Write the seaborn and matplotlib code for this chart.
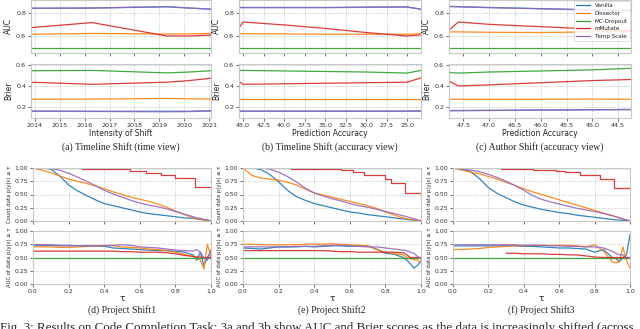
import numpy as np
import pandas as pd
import matplotlib
matplotlib.use("Agg")
from matplotlib import pyplot as plt
import seaborn as sns

# ---- data ----
methods = ["Vanilla", "Dissector", "MC-Dropout", "mMutate", "Temp Scale"]
colors = ["#1f77b4", "#ff7f0e", "#2ca02c", "#d62728", "#9467bd"]
nan = float("nan")

# (a) timeline shift, time view
a_year = [2013.85, 2016.3, 2019.3, 2020.2, 2021.07]
a_auc_vanilla = [0.838, 0.840, 0.850, 0.840, 0.830]
a_auc_dissector = [0.615, 0.622, 0.617, 0.618, 0.622]
a_auc_mcd = [0.5, 0.5, 0.5, 0.5, 0.5]
a_auc_mmutate = [0.672, 0.715, 0.600, 0.600, 0.608]
a_auc_temp = [0.838, 0.840, 0.853, 0.840, 0.830]
a_brier_vanilla = [0.165, 0.163, 0.163, 0.163, 0.168]
a_brier_dissector = [0.275, 0.277, 0.283, 0.280, 0.278]
a_brier_mcd = [0.542, 0.545, 0.522, 0.530, 0.542]
a_brier_mmutate = [0.435, 0.415, 0.435, 0.450, 0.472]
a_brier_temp = [0.163, 0.161, 0.158, 0.160, 0.165]

# (b) timeline shift, accuracy view
b_acc = [45.5, 45.0, 40.0, 35.0, 30.0, 25.0, 23.3]
b_auc_vanilla = [0.845, 0.845, 0.845, 0.845, 0.848, 0.850, 0.830]
b_auc_dissector = [0.620, 0.620, 0.618, 0.615, 0.615, 0.615, 0.620]
b_auc_mcd = [0.5, 0.5, 0.5, 0.5, 0.5, 0.5, 0.5]
b_auc_mmutate = [0.670, 0.720, 0.695, 0.665, 0.630, 0.600, 0.610]
b_auc_temp = [0.843, 0.843, 0.843, 0.843, 0.846, 0.848, 0.830]
b_brier_vanilla = [0.165, 0.165, 0.165, 0.165, 0.165, 0.165, 0.167]
b_brier_dissector = [0.275, 0.275, 0.275, 0.275, 0.275, 0.275, 0.275]
b_brier_mcd = [0.545, 0.545, 0.540, 0.535, 0.530, 0.520, 0.545]
b_brier_mmutate = [0.440, 0.415, 0.420, 0.425, 0.430, 0.435, 0.475]
b_brier_temp = [0.162, 0.162, 0.162, 0.162, 0.162, 0.162, 0.165]

# (c) author shift, accuracy view
c_acc = [47.78, 47.6, 47.0, 46.0, 45.0, 44.25]
c_auc_vanilla = [0.855, 0.852, 0.845, 0.835, 0.825, 0.820]
c_auc_dissector = [0.635, 0.635, 0.632, 0.630, 0.635, 0.640]
c_auc_mcd = [0.5, 0.5, 0.5, 0.5, 0.5, 0.5]
c_auc_mmutate = [0.650, 0.720, 0.700, 0.680, 0.660, 0.645]
c_auc_temp = [0.853, 0.850, 0.843, 0.833, 0.823, 0.818]
c_brier_vanilla = [0.170, 0.170, 0.172, 0.175, 0.178, 0.180]
c_brier_dissector = [0.275, 0.275, 0.275, 0.275, 0.277, 0.275]
c_brier_mcd = [0.525, 0.520, 0.530, 0.540, 0.550, 0.565]
c_brier_mmutate = [0.445, 0.400, 0.410, 0.430, 0.450, 0.460]
c_brier_temp = [0.168, 0.168, 0.170, 0.173, 0.176, 0.178]

# project shifts: values on a tau grid
tau = [0.0, 0.05, 0.1, 0.15, 0.2, 0.25, 0.3, 0.35, 0.4, 0.45, 0.5, 0.55,
       0.6, 0.65, 0.7, 0.75, 0.8, 0.85, 0.9, 0.92, 0.94, 0.96, 0.98, 1.0]
ones = [1.0] * 24
halves = [0.5] * 24

d_cnt_vanilla = [1.0, 1.0, 0.98, 0.85, 0.68, 0.57, 0.48, 0.40, 0.33, 0.29, 0.25, 0.21,
                 0.17, 0.14, 0.12, 0.10, 0.08, 0.06, 0.05, 0.04, 0.03, 0.02, 0.01, 0.0]
d_cnt_dissector = [1.0, 0.96, 0.91, 0.85, 0.79, 0.75, 0.71, 0.66, 0.61, 0.55, 0.50, 0.45,
                   0.41, 0.37, 0.32, 0.26, 0.19, 0.12, 0.06, 0.04, 0.03, 0.02, 0.01, 0.0]
d_cnt_temp = [1.0, 1.0, 0.99, 0.96, 0.90, 0.83, 0.75, 0.67, 0.58, 0.51, 0.45, 0.39,
              0.34, 0.30, 0.27, 0.23, 0.18, 0.13, 0.08, 0.06, 0.05, 0.03, 0.02, 0.0]
d_step_tau = [0.275, 0.545, 0.635, 0.72, 0.80, 0.91, 1.0]
d_cnt_mmutate = [0.98, 0.95, 0.91, 0.87, 0.81, 0.65, 0.65]
d_auc_vanilla = [0.73, 0.73, 0.73, 0.72, 0.72, 0.72, 0.72, 0.72, 0.71, 0.68, 0.67, 0.66,
                 0.65, 0.64, 0.63, 0.63, 0.62, 0.60, 0.55, 0.45, 0.60, 0.35, 0.50, 0.62]
d_auc_dissector = [0.70, 0.70, 0.70, 0.69, 0.69, 0.70, 0.71, 0.72, 0.73, 0.72, 0.70, 0.69,
                   0.68, 0.66, 0.65, 0.63, 0.60, 0.56, 0.52, 0.50, 0.45, 0.28, 0.75, 0.50]
d_auc_temp = [0.74, 0.74, 0.74, 0.73, 0.73, 0.72, 0.72, 0.72, 0.72, 0.73, 0.74, 0.73,
              0.70, 0.69, 0.68, 0.66, 0.64, 0.63, 0.62, 0.65, 0.60, 0.50, 0.45, 0.65]
d_auc_mmutate = [0.62, 0.62, 0.62, 0.62, 0.62, 0.62, 0.62, 0.62, 0.62, 0.62, 0.61, 0.61,
                 0.60, 0.60, 0.60, 0.59, 0.57, 0.54, 0.52, 0.51, 0.51, 0.50, 0.50, 0.50]

e_cnt_vanilla = [1.0, 1.0, 0.97, 0.88, 0.74, 0.58, 0.46, 0.39, 0.33, 0.29, 0.25, 0.21,
                 0.17, 0.15, 0.12, 0.10, 0.08, 0.06, 0.04, 0.03, 0.02, 0.02, 0.01, 0.0]
e_cnt_dissector = [1.0, 0.86, 0.81, 0.79, 0.77, 0.73, 0.68, 0.60, 0.53, 0.49, 0.45, 0.41,
                   0.37, 0.33, 0.29, 0.24, 0.17, 0.11, 0.06, 0.04, 0.03, 0.02, 0.01, 0.0]
e_cnt_temp = [1.0, 1.0, 1.0, 0.98, 0.92, 0.84, 0.74, 0.62, 0.53, 0.47, 0.42, 0.38,
              0.33, 0.29, 0.26, 0.22, 0.18, 0.14, 0.10, 0.08, 0.06, 0.04, 0.02, 0.0]
e_step_tau = [0.27, 0.5, 0.55, 0.62, 0.68, 0.8, 0.83, 0.91, 1.0]
e_cnt_mmutate = [0.985, 0.975, 0.96, 0.93, 0.87, 0.80, 0.72, 0.53, 0.53]
e_auc_vanilla = [0.68, 0.67, 0.66, 0.68, 0.70, 0.70, 0.70, 0.71, 0.70, 0.71, 0.72, 0.72,
                 0.71, 0.72, 0.72, 0.66, 0.58, 0.56, 0.50, 0.45, 0.38, 0.30, 0.35, 0.44]
e_auc_dissector = [0.75, 0.75, 0.74, 0.74, 0.74, 0.74, 0.74, 0.75, 0.75, 0.75, 0.76, 0.75,
                   0.74, 0.73, 0.72, 0.65, 0.60, 0.57, 0.55, 0.50, 0.48, 0.46, 0.45, 0.40]
e_auc_temp = [0.70, 0.70, 0.70, 0.70, 0.70, 0.70, 0.71, 0.71, 0.71, 0.72, 0.73, 0.73,
              0.72, 0.71, 0.70, 0.70, 0.68, 0.66, 0.64, 0.63, 0.60, 0.58, 0.52, 0.48]
e_auc_mmutate = [0.63, 0.63, 0.63, 0.63, 0.63, 0.63, 0.63, 0.63, 0.63, 0.63, 0.62, 0.61,
                 0.61, 0.60, 0.60, 0.60, 0.60, 0.60, 0.59, 0.55, 0.50, 0.50, 0.50, 0.50]

f_cnt_vanilla = [1.0, 0.98, 0.93, 0.80, 0.63, 0.52, 0.44, 0.36, 0.30, 0.26, 0.22, 0.19,
                 0.16, 0.14, 0.11, 0.09, 0.07, 0.05, 0.03, 0.02, 0.02, 0.01, 0.01, 0.0]
f_cnt_dissector = [1.0, 0.96, 0.92, 0.89, 0.84, 0.79, 0.73, 0.67, 0.61, 0.55, 0.50, 0.45,
                   0.40, 0.35, 0.30, 0.25, 0.20, 0.15, 0.10, 0.08, 0.06, 0.04, 0.02, 0.0]
f_cnt_temp = [1.0, 0.98, 0.96, 0.93, 0.88, 0.82, 0.75, 0.67, 0.58, 0.48, 0.41, 0.36,
              0.32, 0.28, 0.24, 0.21, 0.18, 0.14, 0.10, 0.08, 0.06, 0.04, 0.02, 0.0]
f_step_tau = [0.27, 0.45, 0.58, 0.63, 0.72, 0.83, 0.91, 1.0]
f_cnt_mmutate = [0.985, 0.97, 0.95, 0.93, 0.87, 0.80, 0.62, 0.62]
f_auc_vanilla = [0.72, 0.72, 0.72, 0.72, 0.72, 0.72, 0.72, 0.72, 0.71, 0.71, 0.70, 0.69,
                 0.68, 0.68, 0.67, 0.66, 0.60, 0.65, 0.50, 0.48, 0.42, 0.50, 0.55, 0.93]
f_auc_dissector = [0.65, 0.65, 0.66, 0.67, 0.69, 0.70, 0.71, 0.72, 0.72, 0.73, 0.73, 0.73,
                   0.73, 0.73, 0.72, 0.70, 0.74, 0.62, 0.42, 0.40, 0.42, 0.70, 0.45, 0.30]
f_auc_temp = [0.74, 0.74, 0.74, 0.74, 0.74, 0.74, 0.74, 0.74, 0.73, 0.73, 0.73, 0.72,
              0.72, 0.71, 0.71, 0.70, 0.70, 0.68, 0.62, 0.58, 0.55, 0.55, 0.50, 0.50]
f_auc_mmutate = [nan, nan, nan, nan, nan, nan, 0.58, 0.58, 0.57, 0.57, 0.57, 0.56,
                 0.56, 0.55, 0.55, 0.53, 0.51, 0.50, 0.50, 0.50, 0.50, 0.50, 0.50, 0.50]

# ---- style ----
sns.set_theme(style="whitegrid", rc={
    "grid.linestyle": ":", "grid.color": "#b5b5b5", "grid.linewidth": 0.6,
    "axes.edgecolor": "#c8c8c8", "axes.linewidth": 0.8,
    "xtick.bottom": True, "ytick.left": True,
    "xtick.major.size": 2, "ytick.major.size": 2,
    "xtick.major.width": 0.5, "ytick.major.width": 0.5,
    "xtick.color": "#333333", "ytick.color": "#333333",
    "xtick.major.pad": 1.5, "ytick.major.pad": 1.5,
})
plt.rcParams["font.family"] = ["DejaVu Sans"]

W, H = 640, 329
fig = plt.figure(figsize=(6.4, 3.29), dpi=100)


def box(x0, x1, y0, y1):
    return [x0 / W, 1 - y1 / H, (x1 - x0) / W, (y1 - y0) / H]


def draw(ax, x, ys, lw=0.9, steps=None):
    for i, y in enumerate(ys):
        kw = {}
        if steps == i:
            kw["drawstyle"] = "steps-post"
        sns.lineplot(x=x[i] if isinstance(x, dict) else x, y=y, ax=ax, color=colors[i],
                     lw=lw, estimator=None, sort=False, alpha=0.9, **kw)


def tidy(ax, fs=4.6):
    ax.tick_params(labelsize=fs, length=2)
    for s in ax.spines.values():
        s.set_color("#c8c8c8")


# top row
top_x = [(31, 211), (239, 421), (449, 631)]
tx = [a_year, b_acc, c_acc]
auc_sets = [
    [a_auc_vanilla, a_auc_dissector, a_auc_mcd, a_auc_mmutate, a_auc_temp],
    [b_auc_vanilla, b_auc_dissector, b_auc_mcd, b_auc_mmutate, b_auc_temp],
    [c_auc_vanilla, c_auc_dissector, c_auc_mcd, c_auc_mmutate, c_auc_temp],
]
brier_sets = [
    [a_brier_vanilla, a_brier_dissector, a_brier_mcd, a_brier_mmutate, a_brier_temp],
    [b_brier_vanilla, b_brier_dissector, b_brier_mcd, b_brier_mmutate, b_brier_temp],
    [c_brier_vanilla, c_brier_dissector, c_brier_mcd, c_brier_mmutate, c_brier_temp],
]
xlabels_top = ["Intensity of Shift", "Prediction Accuracy", "Prediction Accuracy"]
captions_top = ["(a) Timeline Shift (time view)", "(b) Timeline Shift (accuracy view)",
                "(c) Author Shift (accuracy view)"]
xticks_top = [list(range(2014, 2022)),
              [45.0, 42.5, 40.0, 37.5, 35.0, 32.5, 30.0, 27.5, 25.0],
              [47.5, 47.0, 46.5, 46.0, 45.5, 45.0, 44.5]]

for k in range(3):
    x0, x1 = top_x[k]
    ax1 = fig.add_axes(box(x0, x1, 0, 53))
    ax2 = fig.add_axes(box(x0, x1, 64, 118))
    draw(ax1, tx[k], auc_sets[k])
    draw(ax2, tx[k], brier_sets[k])
    for ax in (ax1, ax2):
        ax.set_xticks(xticks_top[k])
        if k == 0:
            ax.set_xlim(min(tx[k]), max(tx[k]))
        else:
            ax.set_xlim(max(tx[k]), min(tx[k]))
        tidy(ax)
    ax1.set_ylim(0.454, 0.909)
    ax1.set_yticks([0.6, 0.8])
    ax2.set_ylim(0.1, 0.605)
    ax2.set_yticks([0.2, 0.4, 0.6])
    ax1.set_xticklabels([])
    if k == 0:
        ax2.set_xticklabels([str(v) for v in xticks_top[k]])
    else:
        ax2.set_xticklabels([f"{v:.1f}" for v in xticks_top[k]])
    ax1.set_ylabel("AUC", fontsize=5.5, labelpad=2)
    ax2.set_ylabel("Brier", fontsize=5.5, labelpad=2)
    ax1.set_xlabel("")
    ax2.set_xlabel(xlabels_top[k], fontsize=5.5, labelpad=1)
    fig.text((x0 + x1) / 2 / W, 1 - 147 / H, captions_top[k], ha="center", va="center",
             fontsize=7, family="Liberation Serif")
    if k == 2:
        handles = [plt.Line2D([], [], color=c, lw=0.9) for c in colors]
        leg = ax1.legend(handles, methods, loc="upper right", fontsize=4.1, frameon=True,
                         handlelength=2.6, handletextpad=0.8, borderpad=0.35,
                         labelspacing=0.5, borderaxespad=0.15, framealpha=0.85)
        leg.get_frame().set_linewidth(0.5)

# bottom row
bot_x = [(33, 211), (243, 421), (453, 630)]
cnt_sets = [
    [d_cnt_vanilla, d_cnt_dissector, ones, d_cnt_mmutate, d_cnt_temp],
    [e_cnt_vanilla, e_cnt_dissector, ones, e_cnt_mmutate, e_cnt_temp],
    [f_cnt_vanilla, f_cnt_dissector, ones, f_cnt_mmutate, f_cnt_temp],
]
step_taus = [d_step_tau, e_step_tau, f_step_tau]
auc2_sets = [
    [d_auc_vanilla, d_auc_dissector, halves, d_auc_mmutate, d_auc_temp],
    [e_auc_vanilla, e_auc_dissector, halves, e_auc_mmutate, e_auc_temp],
    [f_auc_vanilla, f_auc_dissector, halves, f_auc_mmutate, f_auc_temp],
]
captions_bot = ["(d) Project Shift1", "(e) Project Shift2", "(f) Project Shift3"]

for k in range(3):
    x0, x1 = bot_x[k]
    ax1 = fig.add_axes(box(x0, x1, 168, 221))
    ax2 = fig.add_axes(box(x0, x1, 231, 284))
    xs = {0: tau, 1: tau, 2: tau, 3: step_taus[k], 4: tau}
    draw(ax1, xs, cnt_sets[k], steps=3)
    draw(ax2, tau, auc2_sets[k])
    for ax in (ax1, ax2):
        ax.set_xlim(0, 1)
        ax.set_ylim(0, 1)
        ax.set_xticks([0, 0.2, 0.4, 0.6, 0.8, 1.0])
        ax.set_yticks([0, 0.25, 0.5, 0.75, 1.0])
        ax.set_yticklabels(["0.00", "0.25", "0.50", "0.75", "1.00"])
        tidy(ax, 4.4)
    ax1.set_xticklabels([])
    ax2.set_xticklabels(["0.0", "0.2", "0.4", "0.6", "0.8", "1.0"])
    ax1.set_xlabel("")
    ax2.set_xlabel("τ", fontsize=6.5, labelpad=0)
    ax1.set_ylabel("Count data p(y|x) ≥ τ", fontsize=3.8, labelpad=1.5)
    ax2.set_ylabel("AUC of data p(y|x) ≥ τ", fontsize=3.8, labelpad=1.5)
    fig.text((x0 + x1) / 2 / W, 1 - 310 / H, captions_bot[k], ha="center", va="center",
             fontsize=7, family="Liberation Serif")

fig.text(0.0, 1 - 322 / H,
         "Fig. 3: Results on Code Completion Task: 3a and 3b show AUC and Brier scores "
         "as the data is increasingly shifted (across",
         ha="left", va="top", fontsize=9.4, family="Liberation Serif")

fig.savefig("out.png", dpi=100)
